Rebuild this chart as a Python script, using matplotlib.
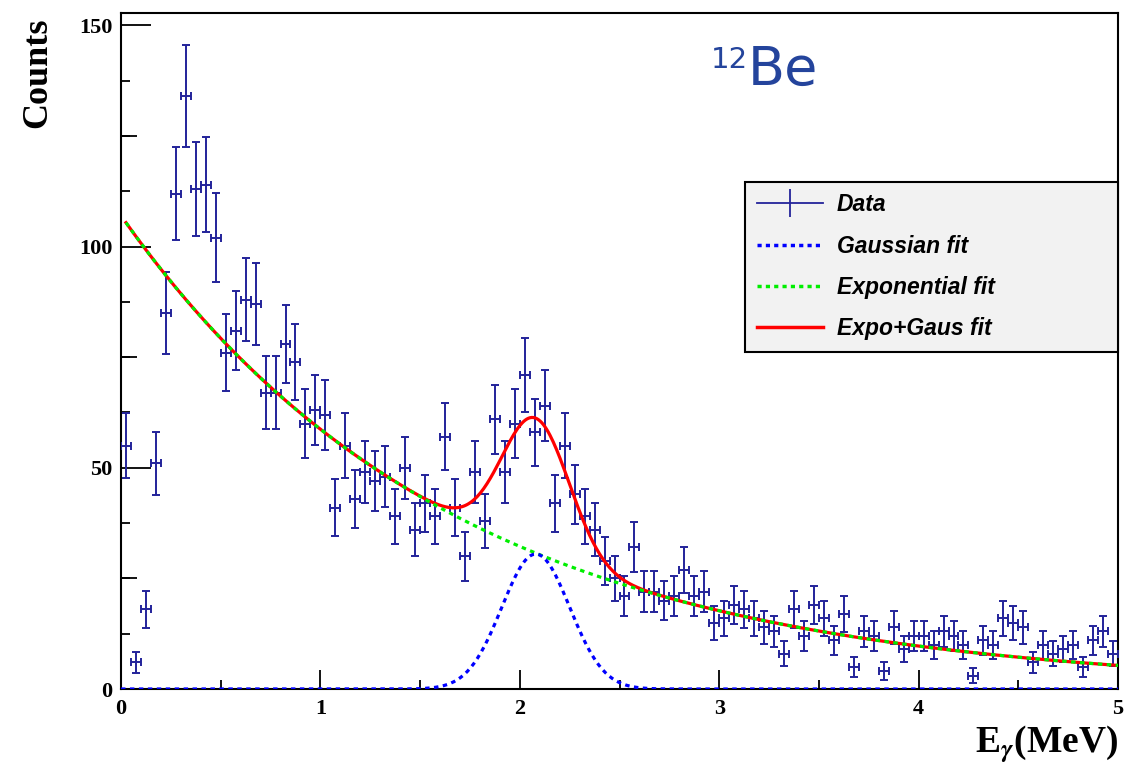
import numpy as np
import matplotlib.pyplot as plt
from matplotlib.lines import Line2D
from matplotlib.ticker import MultipleLocator

plt.rcParams['mathtext.fontset'] = 'stix'
plt.rcParams['font.family'] = ['Liberation Serif', 'DejaVu Serif']
plt.rcParams['font.weight'] = 'bold'

# gamma-ray spectrum, 100 bins of 0.05 MeV
bin_width = 0.05
counts = [55, 6, 18, 51, 85, 112, 134, 113, 114, 102,
          76, 81, 88, 87, 67, 67, 78, 74, 60, 63,
          62, 41, 55, 43, 49, 47, 48, 39, 50, 36,
          42, 39, 57, 41, 30, 49, 38, 61, 49, 60,
          71, 58, 64, 42, 55, 44, 39, 36, 29, 25,
          21, 32, 22, 22, 20, 21, 27, 21, 22, 15,
          16, 19, 18, 16, 14, 13, 8, 18, 12, 19,
          16, 11, 17, 5, 13, 12, 4, 14, 9, 12,
          12, 10, 13, 12, 10, 3, 11, 10, 16, 15,
          14, 6, 10, 8, 9, 10, 5, 11, 13, 8]
energy = np.arange(len(counts)) * bin_width + bin_width / 2
errors = np.sqrt(counts)

# fit results
expo_amp, expo_slope = 107.0, -0.60
gaus_amp, gaus_mean, gaus_sigma = 30.5, 2.08, 0.17

navy = '#23239a'

fig = plt.figure(figsize=(11.27, 7.66), dpi=100)
ax = fig.add_axes([0.10737, 0.10052, 0.88465, 0.88251])

ax.errorbar(energy, counts, xerr=bin_width / 2, yerr=errors, fmt='none',
            ecolor=navy, elinewidth=1.4, capsize=3.0, capthick=1.4, zorder=3)

xs = np.linspace(0.025, 5, 600)
xg = np.linspace(0, 5, 600)
expo = expo_amp * np.exp(expo_slope * xs)
gaus = gaus_amp * np.exp(-(xg - gaus_mean) ** 2 / (2 * gaus_sigma ** 2))
total = expo + gaus_amp * np.exp(-(xs - gaus_mean) ** 2 / (2 * gaus_sigma ** 2))

ax.plot(xs, total, color='#ff0000', lw=2.3, zorder=4)
ax.plot(xs, expo, color='#00ee00', lw=2.3, ls=(0, (1.4, 1.4)), zorder=5)
ax.plot(xg, gaus, color='#0000ff', lw=2.3, ls=(0, (1.4, 1.4)), zorder=5)

ax.set_xlim(0, 5)
ax.set_ylim(0, 152.8)

ax.xaxis.set_major_locator(MultipleLocator(1))
ax.xaxis.set_minor_locator(MultipleLocator(0.5))
ax.yaxis.set_major_locator(MultipleLocator(50))
ax.yaxis.set_minor_locator(MultipleLocator(12.5))
ax.tick_params(axis='x', which='major', direction='in', length=13.5, width=1.3,
               labelsize=16, pad=7)
ax.tick_params(axis='x', which='minor', direction='in', length=6.5, width=1.3)
ax.tick_params(axis='y', which='major', direction='in', length=21.5, width=1.3,
               labelsize=16, pad=6)
ax.tick_params(axis='y', which='minor', direction='in', length=6.5, width=1.3)

# medium ticks every 25 counts
mid = ax.secondary_yaxis('left')
mid.set_yticks([25, 75, 125])
mid.tick_params(direction='in', length=11.5, width=1.3, labelleft=False)
mid.spines['left'].set_visible(False)

for s in ax.spines.values():
    s.set_linewidth(1.5)

fig.text(38 / 1127, 1 - 17 / 766, 'Counts', rotation=90, ha='center', va='top',
         fontsize=26, fontweight='bold')
fig.text(1118 / 1127, 1 - 744 / 766, r'E$_{\gamma}$(MeV)', ha='right', va='center',
         fontsize=27, fontweight='bold')

fig.text(711 / 1127, 1 - 68 / 766, '12', ha='left', va='baseline', fontsize=21,
         color='#24449c', family='DejaVu Sans', fontweight='normal')
fig.text(748 / 1127, 1 - 85 / 766, 'Be', ha='left', va='baseline', fontsize=39,
         color='#24449c', family='DejaVu Sans', fontweight='normal')

handles = [
    Line2D([], [], color=navy, lw=1.3, marker='|', markersize=20, markeredgewidth=1.3),
    Line2D([], [], color='#0000ff', lw=2.5, ls=(0, (1.2, 1.2))),
    Line2D([], [], color='#00ee00', lw=2.5, ls=(0, (1.2, 1.2))),
    Line2D([], [], color='#ff0000', lw=2.5),
]
labels = ['Data', 'Gaussian fit', 'Exponential fit', 'Expo+Gaus fit']
leg = ax.legend(handles, labels, loc='upper left', mode='expand',
                bbox_to_anchor=(0.626, 0.0, 0.374, 0.750), borderaxespad=0,
                numpoints=1, handlelength=2.9, handletextpad=0.6,
                labelspacing=0.80, borderpad=0.50, fancybox=False,
                framealpha=1, facecolor='#f2f2f2', edgecolor='black',
                prop={'family': 'Liberation Sans', 'weight': 'bold',
                      'style': 'italic', 'size': 16.5})
leg.get_frame().set_linewidth(1.5)

fig.savefig('out.png', dpi=100)
